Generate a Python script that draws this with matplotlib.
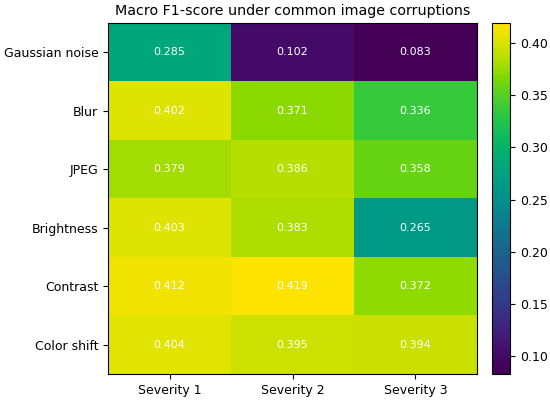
import numpy as np
import matplotlib
matplotlib.use("Agg")
import matplotlib.pyplot as plt
from matplotlib.colors import ListedColormap, rgb_to_hsv, hsv_to_rgb

# ── data ─────────────────────────────────────────────────────────────────────
corruptions = ["Gaussian noise", "Blur", "JPEG", "Brightness", "Contrast", "Color shift"]
severities = ["Severity 1", "Severity 2", "Severity 3"]
f1_scores = np.array([
    [0.285, 0.102, 0.083],
    [0.402, 0.371, 0.336],
    [0.379, 0.386, 0.358],
    [0.403, 0.383, 0.265],
    [0.412, 0.419, 0.372],
    [0.404, 0.395, 0.394],
])

# viridis, a little more saturated toward the bright end (as in the reference)
t = np.linspace(0, 1, 256)
base = plt.get_cmap("viridis")(t)[:, :3]
hsv = rgb_to_hsv(base)
hsv[:, 1] = np.clip(hsv[:, 1] * (1.1 + 0.35 * t), 0, 1)
cmap = ListedColormap(hsv_to_rgb(hsv))

W, H = 550, 403
fig = plt.figure(figsize=(W / 100, H / 100), dpi=100)
ax = fig.add_axes([108 / W, 1 - 374 / H, 369 / W, 351 / H])
cax = fig.add_axes([492 / W, 1 - 374 / H, 18 / W, 351 / H])

im = ax.imshow(f1_scores, cmap=cmap, aspect="auto")

ax.set_xticks(range(len(severities)))
ax.set_xticklabels(severities, fontsize=9)
ax.set_yticks(range(len(corruptions)))
ax.set_yticklabels(corruptions, fontsize=9)

for i in range(f1_scores.shape[0]):
    for j in range(f1_scores.shape[1]):
        ax.text(j, i, f"{f1_scores[i, j]:.3f}", ha="center", va="center",
                color="white", fontsize=8)

ax.set_title("Macro F1-score under common image corruptions", fontsize=10.3)

cb = fig.colorbar(im, cax=cax)
cb.ax.tick_params(labelsize=9)

fig.savefig("out.png", dpi=100)
